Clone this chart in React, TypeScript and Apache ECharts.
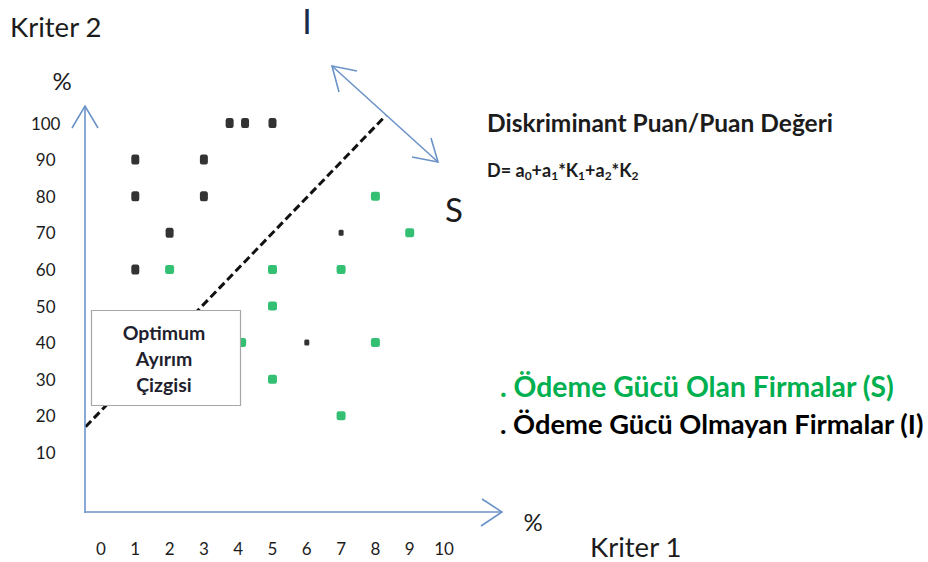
import React, { useEffect, useRef } from "react";
import * as echarts from "echarts";

// Data
const solventFirms: number[][] = [
  [2, 60], [5, 60], [5, 50], [5, 30], [7, 60], [7, 20], [8, 80], [9, 70], [8, 40], [4.1, 40],
];
const insolventFirms: number[][] = [
  [1, 90], [3, 90], [1, 80], [3, 80], [2, 70], [1, 60], [3.75, 100], [4.2, 100], [5, 100],
];
const insolventSmall: number[][] = [
  [7, 70], [6, 40],
];
const separatorLine: number[][] = [
  [-0.45, 17], [8.3, 102],
];
const xTickLabels = ["0", "1", "2", "3", "4", "5", "6", "7", "8", "9", "10"];
const yTickLabels = ["", "10", "20", "30", "40", "50", "60", "70", "80", "90", "100"];

const FONT = "Lato, 'Open Sans', sans-serif";
const AXIS_BLUE = "#6b93c8";
const GREEN = "#00b050";
const DARK = "#1c1c1c";

export default function App() {
  const ref = useRef<HTMLDivElement>(null);
  useEffect(() => {
    if (!ref.current) return;
    const chart = echarts.init(ref.current, null, { renderer: "svg" });
    const option: any = {
      animation: false,
      backgroundColor: "#ffffff",
      // x from -1 so the separator line can start left of 0
      grid: { left: 66.7, top: 123, width: 377.3, height: 366 },
      xAxis: {
        type: "value",
        min: -1,
        max: 10,
        interval: 1,
        axisLine: { show: false },
        axisTick: { show: false },
        splitLine: { show: false },
        axisLabel: {
          margin: 51,
          fontSize: 17,
          color: DARK,
          fontFamily: FONT,
          formatter: (v: number) => (v < 0 ? "" : xTickLabels[Math.round(v)] ?? ""),
        },
      },
      yAxis: {
        type: "value",
        min: 0,
        max: 100,
        interval: 10,
        axisLine: { show: false },
        axisTick: { show: false },
        splitLine: { show: false },
        axisLabel: {
          margin: 21,
          align: "center",
          fontSize: 17,
          color: DARK,
          fontFamily: FONT,
          formatter: (v: number) => yTickLabels[Math.round(v / 10)] ?? "",
        },
      },
      series: [
        {
          type: "line",
          data: separatorLine,
          clip: false,
          symbol: "none",
          silent: true,
          lineStyle: { color: "#111", width: 3, type: [8, 4] },
          z: 1,
        },
        {
          name: "Ödeme Gücü Olan Firmalar (S)",
          type: "scatter",
          data: solventFirms,
          symbol: "roundRect",
          symbolSize: [9, 9],
          itemStyle: { color: GREEN },
          clip: false,
          z: 3,
        },
        {
          name: "Ödeme Gücü Olmayan Firmalar (I)",
          type: "scatter",
          data: insolventFirms,
          symbol: "roundRect",
          symbolSize: [8, 10],
          itemStyle: { color: "#000" },
          clip: false,
          z: 3,
        },
        {
          name: "Ödeme Gücü Olmayan Firmalar (I) küçük",
          type: "scatter",
          data: insolventSmall,
          symbol: "roundRect",
          symbolSize: [5, 6],
          itemStyle: { color: "#000" },
          clip: false,
          z: 3,
        },
      ],
      graphic: [
        // y axis with arrow
        { type: "line", shape: { x1: 85, y1: 513, x2: 85, y2: 106 }, style: { stroke: AXIS_BLUE, lineWidth: 1.6 }, z: 50 },
        { type: "polyline", shape: { points: [[72, 128], [85, 106], [98, 128]] }, style: { stroke: AXIS_BLUE, lineWidth: 1.6, fill: null }, z: 50 },
        // x axis with arrow
        { type: "line", shape: { x1: 85, y1: 512, x2: 502, y2: 512 }, style: { stroke: AXIS_BLUE, lineWidth: 1.6 }, z: 50 },
        { type: "polyline", shape: { points: [[482, 499], [502, 512], [481, 526]] }, style: { stroke: AXIS_BLUE, lineWidth: 1.6, fill: null }, z: 50 },
        // double-headed arrow
        { type: "line", shape: { x1: 332, y1: 66, x2: 438, y2: 162 }, style: { stroke: AXIS_BLUE, lineWidth: 1.6 }, z: 50 },
        { type: "polyline", shape: { points: [[357, 71], [332, 66], [339, 92]] }, style: { stroke: AXIS_BLUE, lineWidth: 1.6, fill: null }, z: 50 },
        { type: "polyline", shape: { points: [[412, 157], [438, 162], [431, 138]] }, style: { stroke: AXIS_BLUE, lineWidth: 1.6, fill: null }, z: 50 },
        // Optimum box
        { type: "rect", shape: { x: 91.5, y: 310.5, width: 149, height: 95 }, style: { fill: "#ffffff", stroke: "#a6a6a6", lineWidth: 1.2 }, z: 60 },
        {
          type: "text", x: 164, y: 358, z: 61,
          style: {
            text: "Optimum\nAyırım\nÇizgisi", font: `bold 19.5px ${FONT}`, fill: "#1f1f2e",
            textAlign: "center", textVerticalAlign: "middle", lineHeight: 26,
          },
        },
        // Texts
        { type: "text", x: 10, y: 26, z: 70, style: { text: "Kriter 2", font: `27.5px ${FONT}`, fill: DARK, textVerticalAlign: "middle" } },
        { type: "text", x: 62, y: 80, z: 70, style: { text: "%", font: `24px ${FONT}`, fill: DARK, textAlign: "center", textVerticalAlign: "middle" } },
        { type: "text", x: 307, y: 20, z: 70, style: { text: "I", font: `34px ${FONT}`, fill: "#1a2a4a", textAlign: "center", textVerticalAlign: "middle" } },
        { type: "text", x: 454, y: 209, z: 70, style: { text: "S", font: `33px ${FONT}`, fill: DARK, textAlign: "center", textVerticalAlign: "middle" } },
        { type: "text", x: 487, y: 122, z: 70, style: { text: "Diskriminant Puan/Puan Değeri", font: `bold 24.5px ${FONT}`, fill: DARK, textVerticalAlign: "middle" } },
        {
          type: "text", x: 487, y: 170, z: 70,
          style: {
            text: "{n|D= a}{s|0}{n|+a}{s|1}{n|*K}{s|1}{n|+a}{s|2}{n|*K}{s|2}",
            textVerticalAlign: "middle",
            rich: {
              n: { font: `bold 18px ${FONT}`, fill: DARK, lineHeight: 22, verticalAlign: "middle" },
              s: { font: `bold 12px ${FONT}`, fill: DARK, lineHeight: 22, verticalAlign: "bottom" },
            },
          },
        },
        { type: "text", x: 500, y: 386, z: 70, style: { text: ". Ödeme Gücü Olan Firmalar (S)", font: `bold 28.3px ${FONT}`, fill: GREEN, textVerticalAlign: "middle" } },
        { type: "text", x: 500, y: 423, z: 70, style: { text: ". Ödeme Gücü Olmayan Firmalar (I)", font: `bold 27.3px ${FONT}`, fill: "#000", textVerticalAlign: "middle" } },
        { type: "text", x: 533, y: 521, z: 70, style: { text: "%", font: `24px ${FONT}`, fill: DARK, textAlign: "center", textVerticalAlign: "middle" } },
        { type: "text", x: 590, y: 546, z: 70, style: { text: "Kriter 1", font: `27.5px ${FONT}`, fill: DARK, textVerticalAlign: "middle", lineHeight: 26 } },
      ],
    };
    chart.setOption(option);
    return () => chart.dispose();
  }, []);
  return (
    <div
      ref={ref}
      style={{ position: "absolute", left: 0, top: 0, width: 928, height: 562 }}
    />
  );
}
